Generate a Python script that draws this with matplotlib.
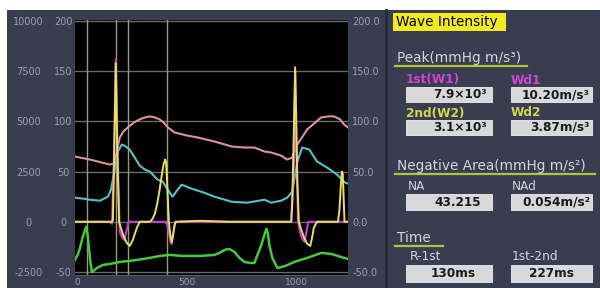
import matplotlib
matplotlib.use('Agg')
import matplotlib.pyplot as plt
from matplotlib.patches import Rectangle
from matplotlib.lines import Line2D

# =============================================
# data (time in ms, values in inner-axis units -50..200)
# =============================================
pink_t = [-9, 59, 150, 168, 180, 195, 212, 232, 260, 286, 310, 332, 355, 377, 395, 414, 445, 500,
          550, 627, 705, 760, 809, 855, 886, 930, 959, 982, 1005, 1050, 1114, 1150, 1173, 1200, 1218, 1236]
pink_v = [65, 62, 57, 58, 68, 84, 90, 94, 99, 102, 104, 105, 104, 102, 99, 94, 89, 86,
          84, 80, 75, 74, 74, 70, 69, 66, 62, 64, 77, 92, 104, 105, 105, 102, 97, 94]

cyan_t = [-9, 30, 59, 105, 141, 155, 168, 186, 205, 223, 240, 255, 286, 310, 332, 350, 368, 391,
          414, 436, 459, 477, 500, 523, 580, 627, 705, 777, 855, 886, 930, 959, 982, 1005, 1027,
          1059, 1095, 1141, 1186, 1209, 1223, 1236]
cyan_v = [24, 23, 22, 21, 25, 32, 47, 70, 77, 75, 72, 67, 56, 52, 50, 46, 42, 40,
          32, 25, 32, 37, 35, 33, 29, 25, 20, 19, 22, 19, 21, 24, 30, 60, 74,
          72, 60, 54, 47, 42, 39, 38]

wi_t = [-9, 100, 160, 164, 170, 177, 184, 192, 200, 212, 227, 241, 255, 273, 286, 332, 345, 355,
        366, 377, 387, 395, 402, 406, 410, 414, 419, 425, 432, 438, 444, 450, 560, 700, 977, 982,
        988, 995, 1000, 1005, 1012, 1023, 1036, 1050, 1064, 1072, 1080, 1095, 1190, 1197, 1203,
        1208, 1212, 1216, 1220, 1236]
wi_v = [0, 0, 0, 2, 70, 158, 70, 0, -6, -14, -21, -24, -18, -6, 0, 0, 3, 8,
        18, 32, 47, 57, 62, 60, 45, 25, 0, -12, -20, -14, -4, 0, 1, 0, 0, 20,
        80, 154, 100, 40, 0, -8, -16, -22, -24, -16, -6, 0, 0, 12, 35,
        50, 48, 25, 0, 0]

wd_t = [-9, 150, 160, 168, 177, 186, 195, 205, 215, 225, 235, 405, 414, 420, 426, 432, 440, 450,
        977, 990, 995, 1002, 1008, 1015, 1022, 1030, 1038, 1045, 1055, 1236]
wd_v = [0, 0, -2, 60, 162, 60, -10, -15, -18, -10, 0, 0, -5, -12, -20, -22, -10, 0,
        0, 60, 150, 60, 0, -8, -14, -18, -20, -12, 0, 0]

ecg_t = [-9, 5, 14, 25, 42, 48, 54, 61, 68, 80, 91, 118, 150, 195, 240, 273, 330, 380, 423, 480,
         559, 627, 650, 673, 695, 718, 741, 764, 790, 809, 823, 841, 852, 864, 871, 877, 891, 914,
         950, 991, 1050, 1114, 1160, 1218, 1236]
ecg_v = [-38, -32, -26, -16, -5, -12, -25, -40, -50, -48, -46, -43, -42, -40, -39, -38, -36, -34, -33, -34,
         -34, -33, -31, -28, -27, -30, -36, -40, -41, -41, -33, -23, -15, -7, -12, -23, -36, -46,
         -44, -40, -36, -31, -32, -36, -37]

markers_t = [45, 177, 232, 409]

inner_ticks = [-50, 0, 50, 100, 150, 200]
outer_ticks = [-2500, 0, 2500, 5000, 7500, 10000]
right_labels = ['-50.0', '0.0', '50.0', '100.0', '150.0', '200.0']
x_ticks = [0, 500, 1000]

# =============================================
# figure
# =============================================
W, H = 600, 288
fig = plt.figure(figsize=(6, 2.88), dpi=100, facecolor='white')


def fx(px):
    return px / W


def fy(py):
    return 1 - py / H


panel = '#383d50'
fig.patches.append(Rectangle((fx(7), 0), 1 - fx(7), fy(10), transform=fig.transFigure,
                             facecolor=panel, edgecolor='none', zorder=-10))
fig.add_artist(Line2D([fx(386), fx(386)], [0, fy(10)], color='#272b38', lw=2))

ax = fig.add_axes([fx(75), fy(275), fx(348) - fx(75), (275 - 20) / H])
ax.set_zorder(5)
ax.set_facecolor('black')
ax.set_xlim(-9, 1236)
ax.set_ylim(-53, 201)

for y in inner_ticks:
    ax.axhline(y, color='#6a6a6a', lw=1, zorder=1)
for t in markers_t:
    ax.axvline(t, color='#9a9a6e', lw=1, zorder=1)

ax.plot(pink_t, pink_v, color='#d8969a', lw=1.5, zorder=3)
ax.plot(cyan_t, cyan_v, color='#58c0c8', lw=1.5, zorder=3)
ax.plot(ecg_t, ecg_v, color='#46c83c', lw=1.8, zorder=3)
ax.plot(wd_t, wd_v, color='#c040d0', lw=1.5, zorder=4)
ax.plot(wi_t, wi_v, color='#e8e060', lw=1.4, zorder=5)

tick_col = '#9ca0b2'
for s in ax.spines.values():
    s.set_visible(False)
ax.spines['bottom'].set_visible(True)
ax.spines['bottom'].set_color('#505560')

ax.set_xticks(x_ticks)
ax.set_xticklabels([str(v) for v in x_ticks])
ax.tick_params(axis='x', length=0, pad=2, labelsize=6.5, labelcolor=tick_col)

ax.set_yticks(inner_ticks)
ax.set_yticklabels([str(v) for v in inner_ticks])
ax.tick_params(axis='y', length=0, pad=8.5, labelsize=7, labelcolor=tick_col)
plt.setp(ax.get_yticklabels(), ha='center')

sec = ax.secondary_yaxis(-0.1245, functions=(lambda v: v * 50, lambda v: v / 50))
sec.set_yticks(outer_ticks)
sec.set_yticklabels([str(v) for v in outer_ticks])
sec.tick_params(length=0, pad=9, labelsize=7, labelcolor=tick_col)
sec.spines['left'].set_visible(False)
plt.setp(sec.get_yticklabels(), ha='center')

right = ax.secondary_yaxis('right')
right.set_yticks(inner_ticks)
right.set_yticklabels(right_labels)
right.tick_params(length=0, pad=3, labelsize=7, labelcolor=tick_col)
right.spines['right'].set_visible(False)

# =============================================
# info panel
# =============================================
head_col = '#d4d6de'
fs = 8.7

fig.patches.append(Rectangle((fx(393), fy(31)), fx(506) - fx(393), 18 / H, transform=fig.transFigure,
                             facecolor='#f2ec1e', edgecolor='none'))
fig.text(fx(396), fy(22), 'Wave Intensity', color='black', fontsize=9.8, va='center')


def header(text, y, x_end):
    fig.text(fx(397), fy(y), text, color=head_col, fontsize=9.8, va='center')
    fig.add_artist(Line2D([fx(395), fx(x_end)], [fy(y + 8), fy(y + 8)], color='#b8c23c', lw=1.6))


def value_box(x0, x1, y0, y1, text, tx, ha):
    fig.patches.append(Rectangle((fx(x0), fy(y1)), fx(x1) - fx(x0), (y1 - y0) / H,
                                 transform=fig.transFigure, facecolor='#d8d8d8', edgecolor='#eeeeee', lw=0.6))
    fig.text(fx(tx), fy((y0 + y1) / 2), text, color='#1a1a1a', fontsize=fs, ha=ha, va='center',
             fontweight='bold')


header('Peak(mmHg m/s³)', 58, 527)
fig.text(fx(406), fy(80), '1st(W1)', color='#d444d4', fontsize=fs, va='center', fontweight='bold')
fig.text(fx(511), fy(80), 'Wd1', color='#d444d4', fontsize=fs, va='center', fontweight='bold')
value_box(406, 492, 87, 102, '7.9×10³', 487, 'right')
value_box(511, 592, 87, 102, '10.20m/s³', 590, 'right')
fig.text(fx(406), fy(113), '2nd(W2)', color='#d6d650', fontsize=fs, va='center', fontweight='bold')
fig.text(fx(511), fy(113), 'Wd2', color='#d6d650', fontsize=fs, va='center', fontweight='bold')
value_box(406, 492, 120, 135, '3.1×10³', 487, 'right')
value_box(511, 592, 120, 135, '3.87m/s³', 590, 'right')

header('Negative Area(mmHg m/s²)', 166, 595)
fig.text(fx(408), fy(187), 'NA', color=head_col, fontsize=fs, va='center')
fig.text(fx(512), fy(187), 'NAd', color=head_col, fontsize=fs, va='center')
value_box(406, 492, 194, 210, '43.215', 481, 'right')
value_box(511, 592, 194, 210, '0.054m/s²', 590, 'right')

header('Time', 238, 443)
fig.text(fx(410), fy(257), 'R-1st', color=head_col, fontsize=fs, va='center')
fig.text(fx(512), fy(257), '1st-2nd', color=head_col, fontsize=fs, va='center')
value_box(406, 492, 265, 282, '130ms', 453, 'center')
value_box(511, 592, 265, 282, '227ms', 552, 'center')

plt.savefig('out.png', dpi=100, facecolor='white')
